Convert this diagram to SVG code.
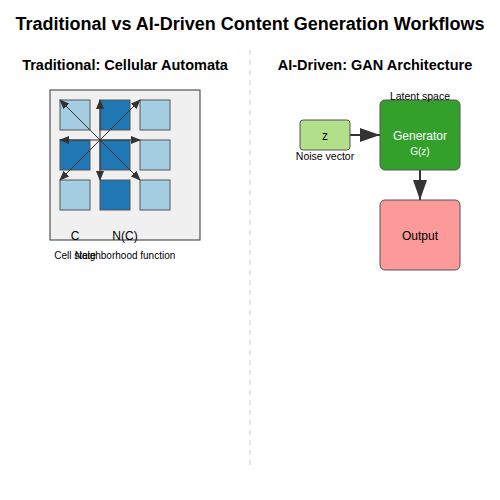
<svg xmlns="http://www.w3.org/2000/svg" width="500" height="500" viewBox="0 0 500 500">
<style>
text{font-family:"Liberation Sans",Arial,sans-serif;text-anchor:middle}
.title{font-size:18px;font-weight:bold}
.sub{font-size:14.5px;font-weight:bold}
.cl{fill:#a6cee3;stroke:#555;stroke-width:1}
.cd{fill:#1f78b4;stroke:#555;stroke-width:1}
.na{stroke:#333;stroke-width:1;fill:none;marker-end:url(#sa)}
.ba{stroke:#333;stroke-width:2;fill:none;marker-end:url(#ba)}
</style>
<defs>
<marker id="sa" markerWidth="10" markerHeight="8" refX="9" refY="4" orient="auto" markerUnits="userSpaceOnUse"><path d="M0,0 L10,4 L0,8 z" fill="#333"/></marker>
<marker id="ba" markerWidth="10" markerHeight="7" refX="10" refY="3.5" orient="auto"><path d="M0,0 L10,3.5 L0,7 z" fill="#333"/></marker>
</defs>
<rect width="500" height="500" fill="#fff"/>
<text class="title" x="250" y="30">Traditional vs AI-Driven Content Generation Workflows</text>
<line x1="250" y1="50" x2="250" y2="465" stroke="#ccc" stroke-width="1" stroke-dasharray="5,5"/>
<text class="sub" x="125" y="70">Traditional: Cellular Automata</text>
<text class="sub" x="375" y="70">AI-Driven: GAN Architecture</text>
<g id="ca">
<rect x="50" y="90" width="150" height="150" fill="#f0f0f0" stroke="#333"/>
<rect class="cl" x="60" y="100" width="30" height="30"/>
<rect class="cd" x="100" y="100" width="30" height="30"/>
<rect class="cl" x="140" y="100" width="30" height="30"/>
<rect class="cd" x="60" y="140" width="30" height="30"/>
<rect class="cd" x="100" y="140" width="30" height="30"/>
<rect class="cl" x="140" y="140" width="30" height="30"/>
<rect class="cl" x="60" y="180" width="30" height="30"/>
<rect class="cd" x="100" y="180" width="30" height="30"/>
<rect class="cl" x="140" y="180" width="30" height="30"/>
<text x="75" y="240" font-size="12">C</text>
<text x="125" y="240" font-size="12">N(C)</text>
<text x="75" y="259" font-size="10">Cell state</text>
<text x="125" y="259" font-size="10">Neighborhood function</text>
</g>
<g id="connectors">
<line class="na" x1="100" y1="140" x2="60" y2="100"/>
<line class="na" x1="100" y1="140" x2="100" y2="100"/>
<line class="na" x1="100" y1="140" x2="140" y2="100"/>
<line class="na" x1="100" y1="140" x2="60" y2="140"/>
<line class="na" x1="100" y1="140" x2="140" y2="140"/>
<line class="na" x1="100" y1="140" x2="60" y2="180"/>
<line class="na" x1="100" y1="140" x2="100" y2="180"/>
<line class="na" x1="100" y1="140" x2="140" y2="180"/>
<line class="ba" x1="350" y1="135" x2="380" y2="135"/>
<line class="ba" x1="420" y1="170" x2="420" y2="200"/>
</g>
<g id="z">
<rect x="300" y="120" width="50" height="30" rx="3" fill="#b2df8a" stroke="#555"/>
<text x="325" y="140" font-size="12">z</text>
<text x="325" y="160" font-size="10.5">Noise vector</text>
</g>
<g id="generator">
<rect x="380" y="100" width="80" height="70" rx="5" fill="#33a02c" stroke="#555"/>
<text x="420" y="140" font-size="12" fill="#fff">Generator</text>
<text x="420" y="155" font-size="10" fill="#fff">G(z)</text>
<text x="420" y="100" font-size="10.5">Latent space</text>
</g>
<g id="output">
<rect x="380" y="200" width="80" height="70" rx="5" fill="#fb9a99" stroke="#555"/>
<text x="420" y="240" font-size="12">Output</text>
</g>
</svg>
